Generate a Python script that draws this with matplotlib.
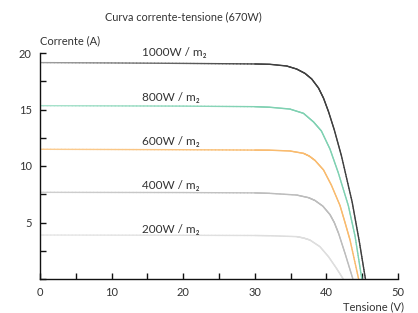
import matplotlib
matplotlib.use("Agg")
import matplotlib.pyplot as plt
import numpy as np
from matplotlib.ticker import MultipleLocator
from matplotlib.collections import LineCollection
from matplotlib.colors import to_rgb

plt.rcParams['font.family'] = ['Lato', 'DejaVu Sans']

# Data (voltage V, current A)
v1000 = [0, 10, 20, 30, 32.1, 34.45, 35.85, 37.0, 37.95, 38.9, 39.6, 40.3, 41.1, 42.1, 43.6, 44.6, 45.45]
i1000 = [19.15, 19.12, 19.08, 19.03, 19.0, 18.85, 18.58, 18.2, 17.7, 16.9, 16.0, 14.8, 13.2, 10.9, 6.8, 3.3, 0]
v800 = [0, 10, 20, 30, 32.1, 34.9, 36.8, 38.2, 39.3, 40.5, 41.66, 43.06, 44.0, 44.95]
i800 = [15.34, 15.32, 15.3, 15.25, 15.2, 15.04, 14.66, 13.9, 13.1, 11.5, 9.4, 6.5, 3.8, 0]
v600 = [0, 10, 20, 30, 32.1, 34.9, 36.8, 37.6, 38.4, 39.6, 40.7, 41.9, 42.6, 43.3, 44.5]
i600 = [11.48, 11.46, 11.44, 11.41, 11.4, 11.33, 11.12, 10.88, 10.5, 9.65, 8.3, 6.5, 5.0, 3.45, 0]
v400 = [0, 10, 20, 30, 32.1, 35.85, 37.5, 38.4, 39.5, 40.5, 41.1, 41.7, 42.6, 43.7]
i400 = [7.67, 7.66, 7.65, 7.62, 7.58, 7.43, 7.2, 6.95, 6.45, 5.7, 5.0, 4.04, 2.27, 0]
v200 = [0, 10, 20, 30, 32.1, 35.85, 36.8, 37.7, 39.1, 40.3, 41.4, 42.35]
i200 = [3.89, 3.88, 3.87, 3.85, 3.83, 3.75, 3.63, 3.45, 2.86, 1.97, 0.95, 0]

labels = ["1000W / m\u2082", "800W / m\u2082", "600W / m\u2082", "400W / m\u2082", "200W / m\u2082"]
label_y = [20.0, 16.05, 12.15, 8.3, 4.4]
colors = ["#3f3f3f", "#7fd1b2", "#f9bb6e", "#bdbdbd", "#dedede"]
start_colors = ["#a0a0a0", "#a8e2cc", "#fbcd93", "#cfcfcf", "#e6e6e6"]

series = [(v1000, i1000), (v800, i800), (v600, i600), (v400, i400), (v200, i200)]

fig = plt.figure(figsize=(4.18, 3.13), dpi=100)
ax = fig.add_axes([40/418, 1-279/313, 358/418, 226/313])


def gradient_line(ax, v, i, c0, c1):
    v = np.asarray(v, float)
    i = np.asarray(i, float)
    # split each straight segment into pieces so the colour can fade (style only)
    pts = []
    for k in range(len(v) - 1):
        for t in np.linspace(0, 1, 20, endpoint=False):
            pts.append((v[k] + t * (v[k + 1] - v[k]), i[k] + t * (i[k + 1] - i[k])))
    pts.append((v[-1], i[-1]))
    pts = np.array(pts)
    segs = np.stack([pts[:-1], pts[1:]], axis=1)
    frac = np.clip(segs[:, 0, 0] / 30.0, 0, 1)
    a, b = np.array(to_rgb(c0)), np.array(to_rgb(c1))
    cols = a[None, :] * (1 - frac[:, None]) + b[None, :] * frac[:, None]
    lc = LineCollection(segs, colors=cols, linewidths=1.0, capstyle='round', joinstyle='round')
    ax.add_collection(lc)


for (v, i), c, c0, lab, ly in zip(series, colors, start_colors, labels, label_y):
    gradient_line(ax, v, i, c0, c)
    ax.text(14.3, ly, lab, fontsize=8.5, color='#333333', ha='left', va='center')

ax.set_xlim(0, 50)
ax.set_ylim(0, 20)
ax.xaxis.set_major_locator(MultipleLocator(10))
ax.xaxis.set_minor_locator(MultipleLocator(5))
ax.set_yticks([5, 10, 15, 20])
ax.set_yticks([0, 2.5, 7.5, 12.5, 17.5], minor=True)
ax.tick_params(which='both', direction='in', length=4, width=1, color='#111111',
               labelsize=8, labelcolor='#333333', pad=6)
for s in ['top', 'right']:
    ax.spines[s].set_visible(False)
for s in ['left', 'bottom']:
    ax.spines[s].set_linewidth(1)
    ax.spines[s].set_color('#111111')

fig.text(183/418, 1-17/313, "Curva corrente-tensione (670W)", fontsize=7.8,
         color='#333333', ha='center', va='center')
fig.text(40/418, 1-40.7/313, "Corrente (A)", fontsize=8, color='#333333',
         ha='left', va='center')
fig.text(404/418, 1-306.7/313, "Tensione (V)", fontsize=8, color='#333333',
         ha='right', va='center')

fig.savefig("out.png", dpi=100)
